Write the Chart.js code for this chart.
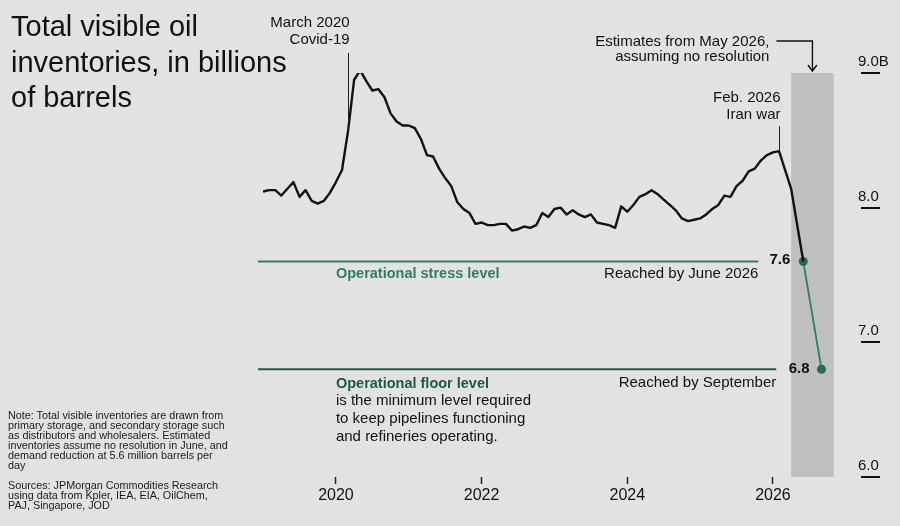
<!DOCTYPE html>
<html>
<head>
<meta charset="utf-8">
<script src="https://cdn.jsdelivr.net/npm/chart.js@4.4.1/dist/chart.umd.min.js"></script>
<style>
  html, body { margin: 0; padding: 0; background: #e2e2e2; }
  #wrap { position: relative; width: 900px; height: 526px; overflow: hidden;
          font-family: 'Liberation Sans', Arial, Helvetica, sans-serif; color: #111; }
  #chart { position: absolute; left: 0; top: 0; }
  .title { position: absolute; left: 11px; top: 9px; font-size: 29px; line-height: 35.5px; }
  .note { position: absolute; left: 8px; font-size: 10.8px; line-height: 9.9px; color: #1a1a1a; }
</style>
</head>
<body>
<div id="wrap">
  <canvas id="chart" width="900" height="526"></canvas>
  <div class="title">Total visible oil<br>inventories, in billions<br>of barrels</div>
  <div class="note" style="top:411px">Note: Total visible inventories are drawn from<br>primary storage, and secondary storage such<br>as distributors and wholesalers. Estimated<br>inventories assume no resolution in June, and<br>demand reduction at 5.6 million barrels per<br>day</div>
  <div class="note" style="top:481px">Sources: JPMorgan Commodities Research<br>using data from Kpler, IEA, EIA, OilChem,<br>PAJ, Singapore, JOD</div>
</div>
<script>
// Global font settings:
const FONT = "'Liberation Sans', Arial, Helvetica, sans-serif";
Chart.defaults.font.family = FONT;
Chart.defaults.color = '#111';

// Constants
const COLORS = {
    INK: '#111111',
    STRESS: '#2f7f58',
    FLOOR: '#1e5b3c',
    SEGMENT: '#2f7f5c',
    DOT: '#2a6a4c',
    BAND: '#bfbfbf'
};

// Monthly visible inventories, billions of barrels, from Jan 2019 to Feb 2026
const firstMonth = '2019-01';
const inventories = [
    8.12, 8.13, 8.13, 8.09, 8.14, 8.19, 8.08, 8.13, 8.05, 8.03, 8.05, 8.11,
    8.19, 8.28, 8.57, 8.95, 9.02, 8.94, 8.87, 8.88, 8.82, 8.70, 8.64, 8.61,
    8.61, 8.59, 8.51, 8.39, 8.38, 8.29, 8.22, 8.16, 8.04, 7.99, 7.96, 7.88,
    7.89, 7.87, 7.87, 7.88, 7.88, 7.83, 7.84, 7.86, 7.85, 7.87, 7.96, 7.93,
    7.99, 8.00, 7.95, 7.98, 7.95, 7.93, 7.95, 7.89, 7.88, 7.87, 7.85, 8.01,
    7.97, 8.02, 8.08, 8.10, 8.13, 8.10, 8.06, 8.02, 7.98, 7.92, 7.90, 7.91,
    7.92, 7.95, 7.99, 8.02, 8.09, 8.08, 8.16, 8.20, 8.27, 8.29, 8.35, 8.39,
    8.41, 8.42
];

// Estimates, assuming no resolution
const estimateMonths = ['2026-04', '2026-06', '2026-09'];
const estimateValues = [8.14, 7.6, 6.8];

// Reference levels
const stressLevel = 7.6;
const floorLevel = 6.8;

// Events marked on the line
const eventMonths = ['2020-03', '2026-02'];
const eventLabels = [['March 2020', 'Covid-19'], ['Feb. 2026', 'Iran war']];

// Shaded estimate period
const bandMonths = ['2026-04', '2026-11'];

// Axis ticks
const yearTicks = [2020, 2022, 2024, 2026];
const valueTicks = [6, 7, 8, 9];

function toYear(month) {
    const [y, m] = month.split('-').map(Number);
    return y + (m - 1) / 12;
}

const startYear = toYear(firstMonth);
const historyPoints = inventories.map((v, i) => ({ x: startYear + i / 12, y: v }));
const estimatePoints = estimateMonths.map((m, i) => ({ x: toYear(m), y: estimateValues[i] }));

// layout of the plot (years on x)
const X_MIN = 2018.93;
const X_MAX = 2026.893;
const STRESS_END = 2025.80;
const FLOOR_END = 2026.045;

function text(ctx, str, x, y, align, font, color) {
    ctx.font = font;
    ctx.fillStyle = color || COLORS.INK;
    ctx.textAlign = align;
    ctx.textBaseline = 'middle';
    ctx.fillText(str, x, y);
}

const annotations = {
    id: 'annotations',
    beforeDatasetsDraw(chart) {
        const { ctx, scales: { x, y } } = chart;
        const x0 = x.getPixelForValue(toYear(bandMonths[0]));
        const x1 = x.getPixelForValue(toYear(bandMonths[1]));
        const top = y.getPixelForValue(y.max);
        const bottom = y.getPixelForValue(y.min);
        ctx.save();
        ctx.fillStyle = COLORS.BAND;
        ctx.fillRect(x0, top, x1 - x0, bottom - top);
        ctx.restore();
    },
    afterDatasetsDraw(chart) {
        const { ctx, scales: { x, y } } = chart;
        const REG = '15px ' + FONT;
        const BOLD = 'bold 14.5px ' + FONT;
        ctx.save();

        // event markers
        const lineTops = [53, 126];
        const textTops = [[22.5, 40], [98, 115]];
        eventMonths.forEach((m, i) => {
            const idx = Math.round((toYear(m) - startYear) * 12);
            const px = x.getPixelForValue(toYear(m));
            const py = y.getPixelForValue(inventories[idx]);
            ctx.strokeStyle = '#222';
            ctx.lineWidth = 1;
            ctx.beginPath();
            ctx.moveTo(Math.round(px) + 0.5, lineTops[i]);
            ctx.lineTo(Math.round(px) + 0.5, py);
            ctx.stroke();
            eventLabels[i].forEach((t, j) => text(ctx, t, px + 1.5, textTops[i][j], 'right', REG));
        });

        // estimates note with arrow
        const bx = (x.getPixelForValue(toYear(bandMonths[0])) + x.getPixelForValue(toYear(bandMonths[1]))) / 2;
        const bandTop = y.getPixelForValue(y.max);
        text(ctx, 'Estimates from May 2026,', bx - 43, 41.5, 'right', REG);
        text(ctx, 'assuming no resolution', bx - 43, 57, 'right', REG);
        ctx.strokeStyle = '#111';
        ctx.lineWidth = 1.4;
        ctx.beginPath();
        ctx.moveTo(bx - 36, 41);
        ctx.lineTo(bx, 41);
        ctx.lineTo(bx, bandTop - 2);
        ctx.stroke();
        ctx.beginPath();
        ctx.moveTo(bx - 4.5, bandTop - 8);
        ctx.lineTo(bx, bandTop - 2);
        ctx.lineTo(bx + 4.5, bandTop - 8);
        ctx.stroke();

        // level labels
        const x2020 = x.getPixelForValue(2020);
        const sy = y.getPixelForValue(stressLevel);
        const fy = y.getPixelForValue(floorLevel);
        text(ctx, 'Operational stress level', x2020, sy + 12, 'left', BOLD, COLORS.STRESS);
        text(ctx, 'Reached by June 2026', x.getPixelForValue(STRESS_END), sy + 12, 'right', REG);
        text(ctx, 'Operational floor level', x2020, fy + 15, 'left', BOLD, COLORS.FLOOR);
        ['is the minimum level required', 'to keep pipelines functioning', 'and refineries operating.']
            .forEach((t, i) => text(ctx, t, x2020, fy + 32 + i * 17.7, 'left', REG));
        text(ctx, 'Reached by September', x.getPixelForValue(FLOOR_END), fy + 14, 'right', REG);

        // values at the estimate points
        const p1 = estimatePoints[1], p2 = estimatePoints[2];
        text(ctx, p1.y.toFixed(1), x.getPixelForValue(p1.x) - 13, y.getPixelForValue(p1.y) - 2, 'right', 'bold 15px ' + FONT);
        text(ctx, p2.y.toFixed(1), x.getPixelForValue(p2.x) - 12, y.getPixelForValue(p2.y), 'right', 'bold 15px ' + FONT);

        // underline under each value tick
        ctx.strokeStyle = '#111';
        ctx.lineWidth = 2;
        valueTicks.forEach(v => {
            const ty = Math.round(y.getPixelForValue(v));
            ctx.beginPath();
            ctx.moveTo(y.left + 23, ty);
            ctx.lineTo(y.left + 42, ty);
            ctx.stroke();
        });
        ctx.restore();
    }
};

new Chart(document.getElementById('chart'), {
    type: 'line',
    data: {
        datasets: [{
            label: 'Stress level',
            data: [{ x: X_MIN, y: stressLevel }, { x: STRESS_END, y: stressLevel }],
            borderColor: COLORS.STRESS,
            borderWidth: 2,
            pointRadius: 0
        }, {
            label: 'Floor level',
            data: [{ x: X_MIN, y: floorLevel }, { x: FLOOR_END, y: floorLevel }],
            borderColor: COLORS.FLOOR,
            borderWidth: 2,
            pointRadius: 0
        }, {
            label: 'Visible inventories',
            data: historyPoints.concat(estimatePoints.slice(0, 2)),
            borderColor: COLORS.INK,
            borderWidth: 2.4,
            borderJoinStyle: 'round',
            pointRadius: 0
        }, {
            label: 'Estimate',
            data: estimatePoints.slice(1),
            borderColor: COLORS.SEGMENT,
            borderWidth: 1.8,
            pointRadius: 4.5,
            pointBackgroundColor: COLORS.DOT,
            pointBorderWidth: 0
        }]
    },
    options: {
        responsive: false,
        animation: false,
        devicePixelRatio: 1,
        layout: { padding: { top: 73, left: 258, right: 0, bottom: 0 } },
        plugins: {
            legend: { display: false },
            tooltip: { enabled: false }
        },
        scales: {
            x: {
                type: 'linear',
                min: X_MIN,
                max: X_MAX,
                afterBuildTicks: s => { s.ticks = yearTicks.map(v => ({ value: v })); },
                afterFit: s => { s.height = 49; },
                grid: {
                    drawOnChartArea: false,
                    drawTicks: true,
                    tickLength: 7,
                    tickColor: '#222',
                    tickWidth: 1.5
                },
                border: { display: false },
                ticks: {
                    padding: 2,
                    font: { size: 16 },
                    color: '#111',
                    maxRotation: 0,
                    callback: v => String(v)
                }
            },
            y: {
                position: 'right',
                min: 6,
                max: 9,
                afterBuildTicks: s => { s.ticks = valueTicks.map(v => ({ value: v })); },
                afterFit: s => { s.width = 62; },
                grid: { display: false, drawTicks: false },
                border: { display: false },
                ticks: {
                    padding: 20,
                    labelOffset: -11,
                    font: { size: 15 },
                    color: '#111',
                    callback: v => v === 9 ? '9.0B' : v.toFixed(1)
                }
            }
        }
    },
    plugins: [annotations]
});
</script>
</body>
</html>
